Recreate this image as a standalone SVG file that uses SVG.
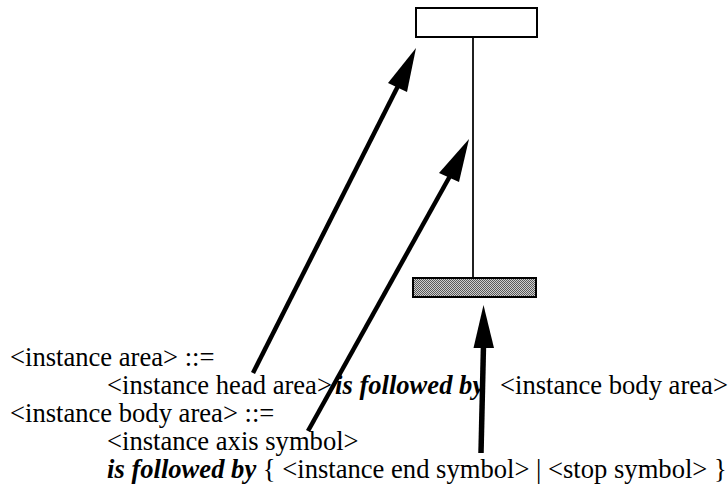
<svg xmlns="http://www.w3.org/2000/svg" width="728" height="490" viewBox="0 0 728 490">
  <style>
    .box { stroke: #000; stroke-width: 2; }
    .axis { stroke: #000; stroke-width: 1.75; fill: none; }
    .arrow { stroke: #000; fill: none; stroke-linecap: butt; }
    .head { fill: #000; stroke: none; }
    .t { font-family: "Liberation Serif", "Times New Roman", serif; font-size: 26.6px; fill: #000; }
    .kw { font-weight: bold; font-style: italic; }
  </style>
  <defs>
    <pattern id="dots" width="2" height="2" patternUnits="userSpaceOnUse">
      <rect width="2" height="2" fill="#cfcfcf"/>
      <rect width="1" height="1" fill="#5a5a5a"/>
      <rect x="1" y="1" width="1" height="1" fill="#5a5a5a"/>
    </pattern>
  </defs>
  <rect width="728" height="490" fill="#fff"/>

  <g id="instance-head">
    <rect class="box" x="416" y="8" width="121" height="29" fill="#fff"/>
  </g>
  <g id="instance-axis">
    <line class="axis" x1="473" y1="37" x2="473" y2="278"/>
  </g>
  <g id="instance-end">
    <rect class="box" x="413" y="278" width="123" height="19" fill="url(#dots)"/>
  </g>

  <g id="grammar-text">
    <text class="t" x="10" y="366">&lt;instance area&gt; ::=</text>
    <text class="t" x="107" y="394">&lt;instance head area&gt;</text>
    <text class="t kw" x="335" y="394">is followed by</text>
    <text class="t" x="500" y="394">&lt;instance body area&gt;</text>
    <text class="t" x="10" y="422">&lt;instance body area&gt; ::=</text>
    <text class="t" x="107" y="450">&lt;instance axis symbol&gt;</text>
    <text class="t" x="107" y="478" xml:space="preserve"><tspan class="kw">is followed by</tspan> { &lt;instance end symbol&gt; | &lt;stop symbol&gt; }</text>
  </g>

  <g id="connectors">
    <line class="arrow" stroke-width="4.5" x1="253" y1="373" x2="398" y2="86"/>
    <polygon class="head" points="416,48 388,83 407,92"/>
    <line class="arrow" stroke-width="4.5" x1="308" y1="431" x2="450" y2="176"/>
    <polygon class="head" points="469,139 439,173 459,182"/>
    <line class="arrow" stroke-width="5.5" x1="481" y1="453" x2="483.5" y2="345"/>
    <polygon class="head" points="483.5,305 473.5,348 494,348"/>
  </g>
</svg>
